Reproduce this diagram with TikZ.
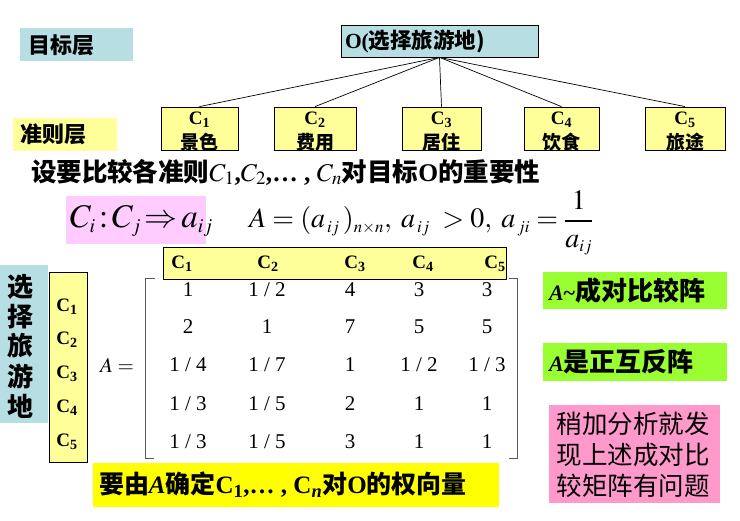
\documentclass[tikz,border=0pt]{standalone}
\usepackage{mathptmx}
\usepackage{fontspec}
\setmainfont{Liberation Serif}
\newfontfamily\cjk{Noto Sans CJK SC}
\definecolor{lblue}{HTML}{B7DEE3}
\definecolor{pyel}{HTML}{FFFF99}
\definecolor{lpink}{HTML}{FFCCFF}
\definecolor{lgreen}{HTML}{99FF33}
\definecolor{hpink}{HTML}{FF99CC}
\definecolor{byel}{HTML}{FFFF00}
\newcommand\fs[1]{\fontsize{#1}{#1}\selectfont}
\newcommand\zh[1]{{\cjk\bfseries #1}}
\newcommand\fr[2]{#1 / #2}
\newcommand\tsub[1]{{\scriptscriptstyle #1}}
\begin{document}
\begin{tikzpicture}[x=1pt,y=-1pt,
  lab/.style={inner sep=0pt,outer sep=0pt,minimum width=#1},
  bx/.style={draw,line width=0.8pt,inner sep=0pt},
  txt/.style={inner sep=0pt,outer sep=0pt},
  cbox/.style={bx,fill=pyel,minimum height=43pt},
  ctext/.style={txt,align=center,yshift=-3pt,font=\fontsize{19}{25}\selectfont},
  num/.style={txt,font=\fs{21}},
  hdr/.style={txt,font=\fs{19}\bfseries}]
\useasboundingbox (0,0) rectangle (740,521);
% goal layer label
\node[lab=113pt,fill=lblue,minimum height=33pt] (goal) at (76.5,44.5) {};
\node[txt,anchor=west,font=\fs{22}] (goalt) at (28,45) {\zh{目标层}};
% O box
\node[bx,fill=lblue,minimum width=197pt,minimum height=32pt] (O) at (439.5,41) {};
\node[txt,anchor=west,font=\fs{21.5}] (Ot) at (345,41) {\textbf{O(}\zh{选择旅游地)}};
% criteria boxes
\node[cbox,minimum width=77pt] (C1) at (199.5,128.5) {};
\node[cbox,minimum width=82pt] (C2) at (315,128.5) {};
\node[cbox,minimum width=79pt] (C3) at (441.5,128.5) {};
\node[cbox,minimum width=75pt] (C4) at (561.5,128.5) {};
\node[cbox,minimum width=80pt] (C5) at (685,128.5) {};
\foreach \c/\i/\t in {C1/1/景色,C2/2/费用,C3/3/居住,C4/4/饮食,C5/5/旅途}
  \node[ctext] (\c t) at (\c) {\textbf{C\textsubscript{\i}}\\\zh{\t}};
\foreach \c in {C1,C2,C3,C4,C5} \draw[line width=0.7pt] (O.south) -- (\c.north);
% criteria layer label
\node[lab=104pt,fill=pyel,minimum height=33pt] (crit) at (65,134.5) {};
\node[txt,anchor=west,font=\fs{22}] (critt) at (20,134) {\zh{准则层}};
% sentence
\node[txt,anchor=west,font=\fs{25.5}] (sent) at (31,172) {\zh{设要比较各准则}$C_1$\textbf{,}$C_2$\textbf{,… ,} $C_n$\zh{对目标}\textbf{O}\zh{的重要性}};
% formula boxes
\node[lab=140pt,fill=lpink,minimum height=48pt] (f1) at (136,220) {};
\node[txt,anchor=base west,font=\fs{33}] (f1t) at (70,228) {$C_{\tsub{i}}\!:\!C_{\tsub{j}}\!\Rightarrow\! a_{\tsub{ij}}$};
\node[txt,anchor=base west,font=\fs{28}] (f2) at (249,228) {$A=(a_{\tsub{\,ij}}\,)_{\tsub{n\times n}},\;a_{\tsub{\,ij}}\;>0,\;a_{\tsub{\,ji}}={\displaystyle\frac{1}{a_{\tsub{ij}}}}$};
% matrix header
\node[bx,fill=pyel,minimum width=343pt,minimum height=32pt] (hbar) at (334.5,263) {};
\foreach \x/\i in {182/1,268/2,355/3,423/4,495/5}
  \node[hdr] (h\i) at (\x,264) {C\textsubscript{\i}};
% left labels
\node[lab=48pt,fill=lblue,minimum height=158pt] (alt) at (24,344) {};
\foreach \y/\ch in {287/选,317/择,346/旅,376/游,406/地}
  \node[txt,font=\fs{26}] at (20,\y) {\zh{\ch}};
\node[bx,fill=pyel,minimum width=38pt,minimum height=190pt] (ccol) at (68,367) {};
\foreach \y/\i in {307/1,340/2,374/3,408/4,442/5}
  \node[hdr] (r\i) at (67,\y) {C\textsubscript{\i}};
% matrix
\node[txt,font=\fs{21}] (Aeq) at (117,365) {$A=$};
\draw[line width=0.6pt,gray!70!black] (155,278) -- (145,278) -- (145,458) -- (154,458);
\draw[line width=0.6pt,gray!70!black] (509,278) -- (517,278) -- (517,458) -- (509,458);
\foreach \y [count=\r] in {290,327,365,404,442}{
  \foreach \x [count=\c] in {188,267,350,419,487}{
    \coordinate (m\r\c) at (\x,\y);
  }
}
\foreach \r/\a/\b/\c/\d/\e in {1/1/\fr{1}{2}/4/3/3, 2/2/1/7/5/5, 3/\fr{1}{4}/\fr{1}{7}/1/\fr{1}{2}/\fr{1}{3}, 4/\fr{1}{3}/\fr{1}{5}/2/1/1, 5/\fr{1}{3}/\fr{1}{5}/3/1/1}{
  \node[num] at (m\r1) {\a};
  \node[num] at (m\r2) {\b};
  \node[num] at (m\r3) {\c};
  \node[num] at (m\r4) {\d};
  \node[num] at (m\r5) {\e};
}
% green notes
\node[lab=184pt,fill=lgreen,minimum height=37pt] (g1) at (635,290.5) {};
\node[txt,anchor=west,font=\fs{26}] (g1t) at (549,291) {{\fs{22}\textbf{\textit{A}}\textbf{\textasciitilde}}\zh{成对比较阵}};
\node[lab=184pt,fill=lgreen,minimum height=38pt] (g2) at (635,362) {};
\node[txt,anchor=west,font=\fs{26}] (g2t) at (549,362) {{\fs{22}\textbf{\textit{A}}}\zh{是正互反阵}};
% pink note
\node[lab=171pt,fill=hpink,minimum height=98pt] (pk) at (634.5,454) {};
\node[txt,align=left,font=\fontsize{25.5}{31}\selectfont] (pkt) at (633,455) {{\cjk 稍加分析就发}\\{\cjk 现上述成对比}\\{\cjk 较矩阵有问题}};
% bottom yellow
\node[lab=406pt,fill=byel,minimum height=44pt] (by) at (296,485) {};
\node[txt,anchor=west,font=\fs{25}] (byt) at (99,485) {\zh{要由}\textbf{\textit{A}}\zh{确定}\textbf{C\textsubscript{1},… , C\textsubscript{\textit{n}}}\zh{对}\textbf{O}\zh{的权向量}};
\end{tikzpicture}
\end{document}
